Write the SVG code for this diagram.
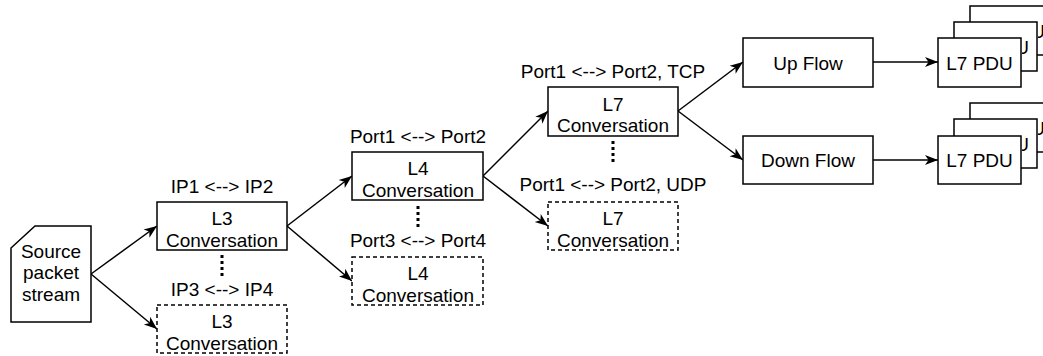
<svg xmlns="http://www.w3.org/2000/svg" width="1043" height="356" viewBox="0 0 1043 356">
<defs>
<style>
.box{fill:#fff;stroke:#000;stroke-width:1.5}
.dash{fill:#fff;stroke:#000;stroke-width:1.5;stroke-dasharray:4 3}
.t{font-family:"Liberation Sans",Arial,sans-serif;font-size:19px;fill:#000;text-anchor:middle}
.te{font-family:"Liberation Sans",Arial,sans-serif;font-size:19px;fill:#000;text-anchor:end}
.c{stroke:#000;stroke-width:1.5;fill:none;marker-end:url(#ah)}
.dots{stroke:#000;stroke-width:3;stroke-dasharray:3 3;fill:none}
</style>
<marker id="ah" markerUnits="userSpaceOnUse" markerWidth="14" markerHeight="12" refX="13" refY="6" orient="auto">
<path d="M0,1 L13,6 L0,11 L3.5,6 Z" fill="#000"/>
</marker>
<clipPath id="cm1"><rect x="1022" y="22" width="15" height="49"/></clipPath>
<clipPath id="cb1"><rect x="1038" y="6" width="15" height="49"/></clipPath>
<clipPath id="cm2"><rect x="1022" y="119" width="15" height="49"/></clipPath>
<clipPath id="cb2"><rect x="1038" y="103" width="15" height="49"/></clipPath>
</defs>
<rect width="1043" height="356" fill="#fff"/>

<g id="connectors">
<line class="c" x1="91" y1="274" x2="157" y2="226"/>
<line class="c" x1="91" y1="274" x2="157" y2="329"/>
<line class="c" x1="287" y1="226" x2="352" y2="176"/>
<line class="c" x1="287" y1="226" x2="352" y2="281"/>
<line class="c" x1="483" y1="176" x2="548" y2="111"/>
<line class="c" x1="483" y1="176" x2="548" y2="226"/>
<line class="c" x1="678" y1="111" x2="743" y2="62"/>
<line class="c" x1="678" y1="111" x2="743" y2="160"/>
<line class="c" x1="873" y1="62" x2="938" y2="62"/>
<line class="c" x1="873" y1="160" x2="938" y2="160"/>
<line class="dots" x1="222" y1="255" x2="222" y2="278"/>
<line class="dots" x1="418" y1="206" x2="418" y2="229"/>
<line class="dots" x1="613" y1="141" x2="613" y2="164"/>
</g>

<g id="source">
<path class="box" d="M11,248 L35,226 L91,226 L91,322 L11,322 Z"/>
<text class="t" y="257.5"><tspan x="51">Source</tspan><tspan x="51" dy="21.5">packet</tspan><tspan x="51" dy="21.5">stream</tspan></text>
</g>

<g id="l3a">
<text class="t" x="222" y="193">IP1 &lt;--&gt; IP2</text>
<rect class="box" x="157" y="202" width="130" height="48"/>
<text class="t" y="225.3"><tspan x="222">L3</tspan><tspan x="222" dy="21.3">Conversation</tspan></text>
</g>
<g id="l3b">
<text class="t" x="222" y="296">IP3 &lt;--&gt; IP4</text>
<rect class="dash" x="157" y="305" width="130" height="48"/>
<text class="t" y="328.3"><tspan x="222">L3</tspan><tspan x="222" dy="21.3">Conversation</tspan></text>
</g>

<g id="l4a">
<text class="t" x="418" y="143">Port1 &lt;--&gt; Port2</text>
<rect class="box" x="352" y="152" width="131" height="48"/>
<text class="t" y="175.3"><tspan x="418">L4</tspan><tspan x="418" dy="21.3">Conversation</tspan></text>
</g>
<g id="l4b">
<text class="t" x="418" y="247">Port3 &lt;--&gt; Port4</text>
<rect class="dash" x="352" y="257" width="131" height="48"/>
<text class="t" y="280.3"><tspan x="418">L4</tspan><tspan x="418" dy="21.3">Conversation</tspan></text>
</g>

<g id="l7a">
<text class="t" x="613" y="78">Port1 &lt;--&gt; Port2, TCP</text>
<rect class="box" x="548" y="87" width="130" height="49"/>
<text class="t" y="110.5"><tspan x="613">L7</tspan><tspan x="613" dy="21.3">Conversation</tspan></text>
</g>
<g id="l7b">
<text class="t" x="613" y="191">Port1 &lt;--&gt; Port2, UDP</text>
<rect class="dash" x="548" y="202" width="130" height="48"/>
<text class="t" y="225.3"><tspan x="613">L7</tspan><tspan x="613" dy="21.3">Conversation</tspan></text>
</g>

<g id="upflow">
<rect class="box" x="743" y="38" width="130" height="49"/>
<text class="t" x="808" y="69.5">Up Flow</text>
</g>
<g id="downflow">
<rect class="box" x="743" y="136" width="130" height="48"/>
<text class="t" x="808" y="167">Down Flow</text>
</g>

<g id="pdu-up">
<rect class="box" x="970" y="6" width="83" height="49"/>
<text class="te" x="1045" y="37.5" clip-path="url(#cb1)">U</text>
<rect class="box" x="954" y="22" width="83" height="49"/>
<text class="te" x="1029" y="53.5" clip-path="url(#cm1)">U</text>
<rect class="box" x="938" y="38" width="83" height="49"/>
<text class="t" x="979.5" y="69.5">L7 PDU</text>
</g>
<g id="pdu-down">
<rect class="box" x="970" y="103" width="83" height="49"/>
<text class="te" x="1045" y="134.5" clip-path="url(#cb2)">U</text>
<rect class="box" x="954" y="119" width="83" height="49"/>
<text class="te" x="1029" y="150.5" clip-path="url(#cm2)">U</text>
<rect class="box" x="938" y="136" width="83" height="48"/>
<text class="t" x="979.5" y="167">L7 PDU</text>
</g>
</svg>
